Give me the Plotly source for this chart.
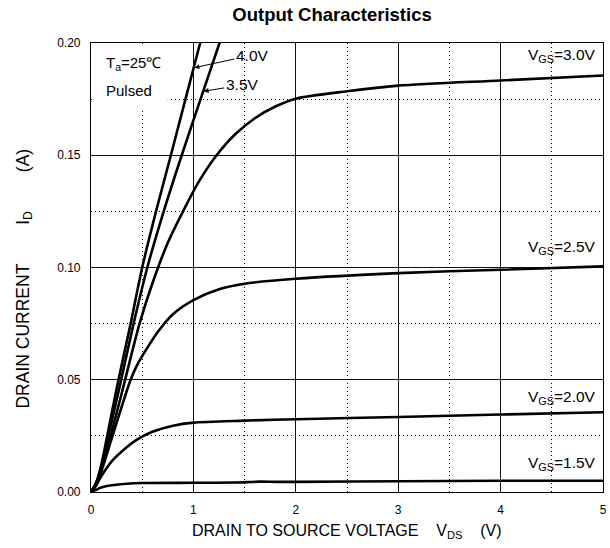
import plotly.graph_objects as go

# ---- data ----
vds_40 = [0, 0.05, 0.1, 0.15, 0.25, 0.387, 0.5, 0.635, 0.78, 1.066, 1.12]
id_40 = [0, 0.004, 0.012, 0.023, 0.046, 0.075, 0.1, 0.125, 0.15, 0.2, 0.209]

vds_35 = [0, 0.05, 0.1, 0.16, 0.28, 0.416, 0.55, 0.71, 0.886, 1.07, 1.255, 1.3]
id_35 = [0, 0.004, 0.011, 0.023, 0.047, 0.075, 0.1, 0.125, 0.15, 0.175, 0.2, 0.206]

vds_30 = [0, 0.05, 0.1, 0.18, 0.3, 0.474, 0.6, 0.75, 0.91, 1.05, 1.21, 1.4, 1.6, 1.8, 2.0, 2.5, 3, 4, 5]
id_30 = [0, 0.004, 0.010, 0.023, 0.044, 0.075, 0.093, 0.111, 0.126, 0.138, 0.149, 0.159, 0.1665, 0.1717, 0.1752, 0.1785, 0.181, 0.1833, 0.1855]

vds_25 = [0, 0.05, 0.1, 0.21, 0.3, 0.387, 0.45, 0.54, 0.65, 0.8, 1.0, 1.25, 1.5, 2.0, 3, 4, 5]
id_25 = [0, 0.003, 0.009, 0.025, 0.038, 0.05, 0.0565, 0.0635, 0.0712, 0.0792, 0.0855, 0.0903, 0.0928, 0.095, 0.0975, 0.099, 0.1005]

vds_20 = [0, 0.05, 0.1, 0.2, 0.3, 0.445, 0.6, 0.8, 1.0, 1.5, 2, 3, 4, 5]
id_20 = [0, 0.003, 0.007, 0.0135, 0.018, 0.0232, 0.0268, 0.0295, 0.0309, 0.0318, 0.0324, 0.0334, 0.0345, 0.0355]

vds_15 = [0, 0.05, 0.1, 0.2, 0.35, 0.5, 1.0, 1.4, 1.65, 1.8, 2, 3, 4, 5]
id_15 = [0, 0.001, 0.002, 0.003, 0.0037, 0.004, 0.0041, 0.0042, 0.0046, 0.0045, 0.0045, 0.0048, 0.005, 0.005]

x_tick_vals = [0, 1, 2, 3, 4, 5]
x_tick_text = ["0", "1", "2", "3", "4", "5"]
y_tick_vals = [0, 0.05, 0.10, 0.15, 0.20]
y_tick_text = ["0.00", "0.05", "0.10", "0.15", "0.20"]

FONT = "Liberation Sans, Arial, sans-serif"
SP = "\u00a0" * 8

fig = go.Figure()
for xs, ys in [(vds_40, id_40), (vds_35, id_35), (vds_30, id_30),
               (vds_25, id_25), (vds_20, id_20), (vds_15, id_15)]:
    fig.add_trace(go.Scatter(x=xs, y=ys, mode="lines",
                             line=dict(color="black", width=2.6, shape="spline", smoothing=0.8),
                             showlegend=False, hoverinfo="skip"))

# white box behind the condition text (covers grid)
fig.add_shape(type="rect", xref="x", yref="y", x0=0.01, x1=0.75, y0=0.171, y1=0.1995,
              fillcolor="white", line=dict(width=0), layer="between")

LBL = 15.5
ann = []
ann.append(dict(x=0.126, y=0.191, xref="x", yref="y", text="T<sub>a</sub>=25\u2103",
                showarrow=False, xanchor="left", yanchor="middle", font=dict(size=15)))
ann.append(dict(x=0.126, y=0.179, xref="x", yref="y", text="Pulsed",
                showarrow=False, xanchor="left", yanchor="middle", font=dict(size=15)))
ann.append(dict(x=1.01, y=0.189, xref="x", yref="y", ax=1.575, ay=0.1946, axref="x", ayref="y",
                text="4.0V", showarrow=True, arrowhead=2, arrowsize=1, arrowwidth=1,
                arrowcolor="black", font=dict(size=LBL)))
ann.append(dict(x=1.10, y=0.1785, xref="x", yref="y", ax=1.475, ay=0.1813, axref="x", ayref="y",
                text="3.5V", showarrow=True, arrowhead=2, arrowsize=1, arrowwidth=1,
                arrowcolor="black", font=dict(size=LBL)))
for lab, yv in [("3.0V", 0.1946), ("2.5V", 0.1087), ("2.0V", 0.0419), ("1.5V", 0.0129)]:
    ann.append(dict(x=4.95, y=yv, xref="x", yref="y", text="V<sub>GS</sub>=" + lab,
                    showarrow=False, xanchor="right", yanchor="middle", font=dict(size=LBL)))
ann.append(dict(x=(23 - 91) / 516, y=(492 - 279) / 449, xref="paper", yref="paper",
                text="DRAIN CURRENT" + SP + "I<sub>D</sub>" + SP + "(A)",
                textangle=-90, showarrow=False, xanchor="center", yanchor="middle",
                font=dict(size=17.5)))
ann.append(dict(x=0.5, y=(492 - 531) / 449, xref="paper", yref="paper",
                text="DRAIN TO SOURCE VOLTAGE\u00a0\u00a0\u00a0\u00a0V<sub>DS</sub>\u00a0\u00a0\u00a0\u00a0(V)",
                showarrow=False, xanchor="center", yanchor="middle", font=dict(size=16)))

fig.update_layout(
    width=610, height=548,
    margin=dict(l=91, r=3, t=43, b=56),
    paper_bgcolor="white", plot_bgcolor="white",
    font=dict(family=FONT, color="black", size=12),
    title=dict(text="<b>Output Characteristics</b>", x=332 / 610, xref="container",
               xanchor="center", y=1 - 15 / 548, yref="container", yanchor="middle",
               font=dict(size=18.5, family=FONT, color="black")),
    annotations=ann,
)
fig.update_xaxes(range=[0, 5], tickvals=x_tick_vals, ticktext=x_tick_text,
                 showgrid=True, gridcolor="#111", gridwidth=1.2,
                 minor=dict(dtick=0.5, tick0=0, showgrid=True, gridcolor="black",
                            griddash="1px,3px", gridwidth=1.2),
                 showline=True, linecolor="black", linewidth=1.2, mirror=True,
                 zeroline=False, ticks="", ticklabelstandoff=6,
                 ticklabeloverflow="allow", tickfont=dict(size=12))
fig.update_yaxes(range=[0, 0.2], tickvals=y_tick_vals, ticktext=y_tick_text,
                 showgrid=True, gridcolor="#111", gridwidth=1.2,
                 minor=dict(dtick=0.025, tick0=0, showgrid=True, gridcolor="black",
                            griddash="1px,3px", gridwidth=1.2),
                 showline=True, linecolor="black", linewidth=1.2, mirror=True,
                 zeroline=False, ticks="", ticklabelstandoff=7,
                 tickfont=dict(size=12))

fig.write_html("out.html", config={"displayModeBar": False},
               post_script="document.body.style.margin='0';document.body.style.overflow='hidden';")
